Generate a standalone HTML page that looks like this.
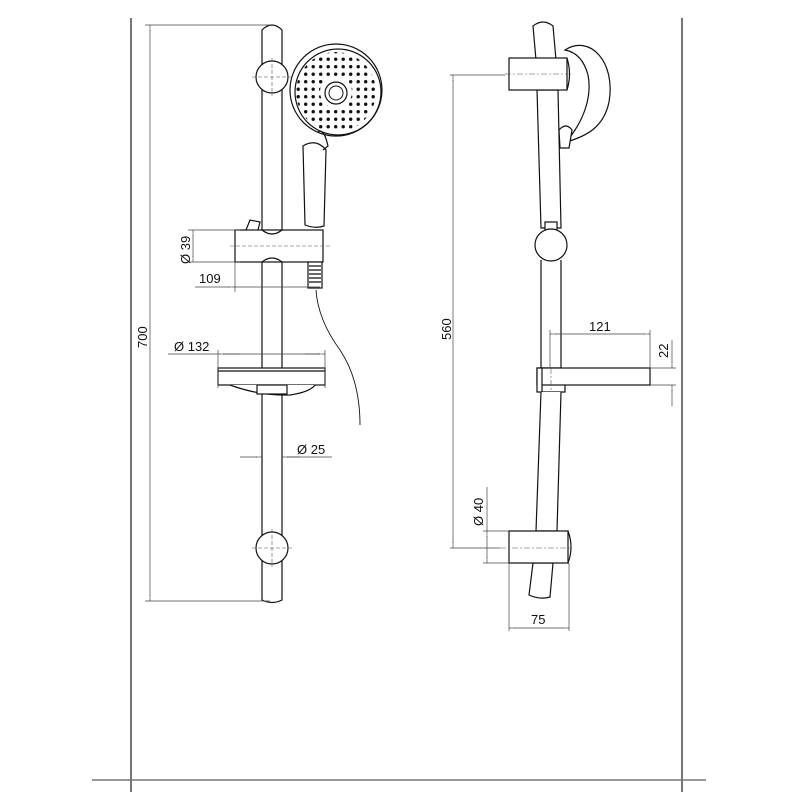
<!DOCTYPE html>
<html><head><meta charset="utf-8"><style>html,body{margin:0;padding:0;background:#fff}svg{display:block}</style></head>
<body>
<svg width="800" height="800" viewBox="0 0 800 800" xmlns="http://www.w3.org/2000/svg" font-family="Liberation Sans, sans-serif">
<defs>
<pattern id="dots" x="2" y="3" width="7.5" height="7.5" patternUnits="userSpaceOnUse"><circle cx="3.7" cy="3.7" r="1.7" fill="#111"/></pattern>
<mask id="ann"><rect width="800" height="800" fill="#000"/><circle cx="336" cy="92" r="40" fill="#fff"/><circle cx="336" cy="92" r="16" fill="#000"/></mask>
<marker id="a" viewBox="0 0 10 4" refX="10" refY="2" markerWidth="8" markerHeight="3" orient="auto-start-reverse"><path d="M0,0.5 L10,2 L0,3.5z" fill="#fff" stroke="#555" stroke-width="0.6"/></marker>
</defs>
<g stroke="#777" stroke-width="2" fill="none">
<line x1="131" y1="18" x2="131" y2="792"/>
<line x1="682" y1="18" x2="682" y2="792"/>
<line x1="92" y1="780" x2="706" y2="780" stroke-width="1.5"/>
</g>
<!-- LEFT VIEW -->
<g stroke="#111" stroke-width="1.2" fill="#fff">
<path d="M262,30 Q272,20 282,30 L282,600 Q272,605 262,600 Z"/>
<circle cx="272" cy="77" r="16"/>
<circle cx="272" cy="548" r="16"/>
<!-- head -->
<path d="M303,146 L305,225 Q315,229 324,226 L326,150 Q316,138 303,146 Z"/>
<circle cx="336" cy="90" r="46"/>
<circle cx="338" cy="92" r="43" fill="none"/>
<path d="M318,132 Q324,128 328,146 L323,150" fill="none"/>
<!-- holder -->
<path d="M246,230 L250,220 L260,222 L258,230"/>
<rect x="235" y="230" width="88" height="32"/>
<path d="M262,230 Q272,238 282,230 M262,262 Q272,254 282,262" fill="none"/>
<rect x="308" y="262" width="14" height="26"/>
<path d="M309,266 h12 M309,270 h12 M309,274 h12 M309,278 h12 M309,282 h12" fill="none"/>
<path d="M316,290 Q318,320 340,350 Q360,380 360,425" fill="none" stroke-width="0.9"/>
<!-- soap dish -->
<rect x="218" y="368" width="107" height="17"/>
<line x1="218" y1="371" x2="325" y2="371"/>
<path d="M230,385 Q260,396 290,395 Q310,392 315,385" fill="#fff"/>
<rect x="257" y="385" width="30" height="9"/>
</g>
<circle cx="336" cy="92" r="40" fill="url(#dots)" mask="url(#ann)"/>
<circle cx="336" cy="93" r="11" fill="#fff" stroke="#111" stroke-width="1.2"/>
<circle cx="336" cy="93" r="7" fill="none" stroke="#111" stroke-width="1"/>
<g stroke="#555" stroke-width="0.6" stroke-dasharray="4,2" fill="none">
<line x1="272" y1="58" x2="272" y2="96"/><line x1="252" y1="77" x2="292" y2="77"/>
<line x1="272" y1="529" x2="272" y2="567"/><line x1="252" y1="548" x2="292" y2="548"/>
<line x1="230" y1="246" x2="330" y2="246"/>
</g>
<!-- left dims -->
<g stroke="#444" stroke-width="0.7" fill="none">
<line x1="145" y1="25" x2="270" y2="25"/><line x1="145" y1="601" x2="270" y2="601"/>
<line x1="150" y1="25" x2="150" y2="601" marker-start="url(#a)" marker-end="url(#a)"/>
<line x1="188" y1="230" x2="240" y2="230"/><line x1="188" y1="262" x2="240" y2="262"/>
<line x1="193" y1="230" x2="193" y2="262" marker-start="url(#a)" marker-end="url(#a)"/>
<line x1="235" y1="262" x2="235" y2="292"/>
<line x1="195" y1="287" x2="235" y2="287" marker-end="url(#a)"/><line x1="235" y1="287" x2="320" y2="287"/>
<line x1="218" y1="350" x2="218" y2="388"/><line x1="325" y1="350" x2="325" y2="388"/>
<line x1="168" y1="354" x2="325" y2="354"/>
<line x1="218" y1="354" x2="240" y2="354" marker-start="url(#a)"/><line x1="305" y1="354" x2="325" y2="354" marker-end="url(#a)"/>
<line x1="240" y1="457" x2="262" y2="457" marker-end="url(#a)"/><line x1="282" y1="457" x2="332" y2="457"/>
<line x1="282" y1="457" x2="300" y2="457" marker-start="url(#a)"/>
</g>
<g fill="#111" font-size="13">
<text transform="translate(147,348) rotate(-90)">700</text>
<text transform="translate(190,264) rotate(-90)">Ø 39</text>
<text x="199" y="283">109</text>
<text x="174" y="351">Ø 132</text>
<text x="297" y="454">Ø 25</text>
</g>
<!-- RIGHT VIEW -->
<g stroke="#111" stroke-width="1.2" fill="#fff">
<path d="M533,26 Q543,18 553,26 L556,60 L536,60 Z"/>
<path d="M565,50 C590,34 616,62 609,102 C604,126 588,136 566,142 C585,120 592,95 588,75 C584,60 576,52 565,50 Z"/>
<path d="M537,90 L541,228 L561,228 L558,90 Z"/>
<path d="M559,130 Q566,122 572,130 L569,148 L560,148 Z"/>
<rect x="509" y="58" width="58" height="32"/>
<path d="M567,58 Q572,74 567,90" fill="none"/>
<rect x="545" y="222" width="12" height="8"/>
<path d="M541,260 L541,368 L561,368 L561,260"/>
<circle cx="551" cy="245" r="16"/>
<rect x="537" y="368" width="113" height="17"/>
<rect x="537" y="368" width="5" height="24"/>
<path d="M542,392 L565,392 L565,385" fill="none"/>
<path d="M541,392 L536,531 L557,531 L561,392"/>
<path d="M533,563 L529,595 Q540,600 550,597 L553,563 Z"/>
<rect x="509" y="531" width="59" height="32"/>
<path d="M568,531 Q574,547 568,563" fill="none"/>
</g>
<g stroke="#555" stroke-width="0.6" stroke-dasharray="6,2,2,2" fill="none">
<line x1="505" y1="74" x2="572" y2="74"/>
<line x1="500" y1="548" x2="572" y2="548"/>
<line x1="551" y1="368" x2="551" y2="392"/>
</g>
<g stroke="#444" stroke-width="0.7" fill="none">
<line x1="450" y1="75" x2="505" y2="75"/><line x1="450" y1="548" x2="500" y2="548"/>
<line x1="453" y1="75" x2="453" y2="548" marker-start="url(#a)" marker-end="url(#a)"/>
<line x1="550" y1="330" x2="550" y2="368"/><line x1="650" y1="330" x2="650" y2="368"/>
<line x1="550" y1="334" x2="650" y2="334" marker-start="url(#a)" marker-end="url(#a)"/>
<line x1="650" y1="368" x2="676" y2="368"/><line x1="650" y1="385" x2="676" y2="385"/>
<line x1="672" y1="340" x2="672" y2="368" marker-end="url(#a)"/>
<line x1="672" y1="385" x2="672" y2="406" marker-start="url(#a)"/>
<line x1="483" y1="531" x2="509" y2="531"/><line x1="483" y1="563" x2="509" y2="563"/>
<line x1="487" y1="487" x2="487" y2="531"/>
<line x1="487" y1="531" x2="487" y2="563" marker-start="url(#a)" marker-end="url(#a)"/>
<line x1="509" y1="563" x2="509" y2="631"/><line x1="569" y1="563" x2="569" y2="631"/>
<line x1="509" y1="628" x2="569" y2="628" marker-start="url(#a)" marker-end="url(#a)"/>
</g>
<g fill="#111" font-size="13">
<text transform="translate(451,340) rotate(-90)">560</text>
<text x="589" y="331">121</text>
<text transform="translate(668,358) rotate(-90)">22</text>
<text transform="translate(483,526) rotate(-90)">Ø 40</text>
<text x="531" y="624">75</text>
</g>
</svg>
</body></html>
